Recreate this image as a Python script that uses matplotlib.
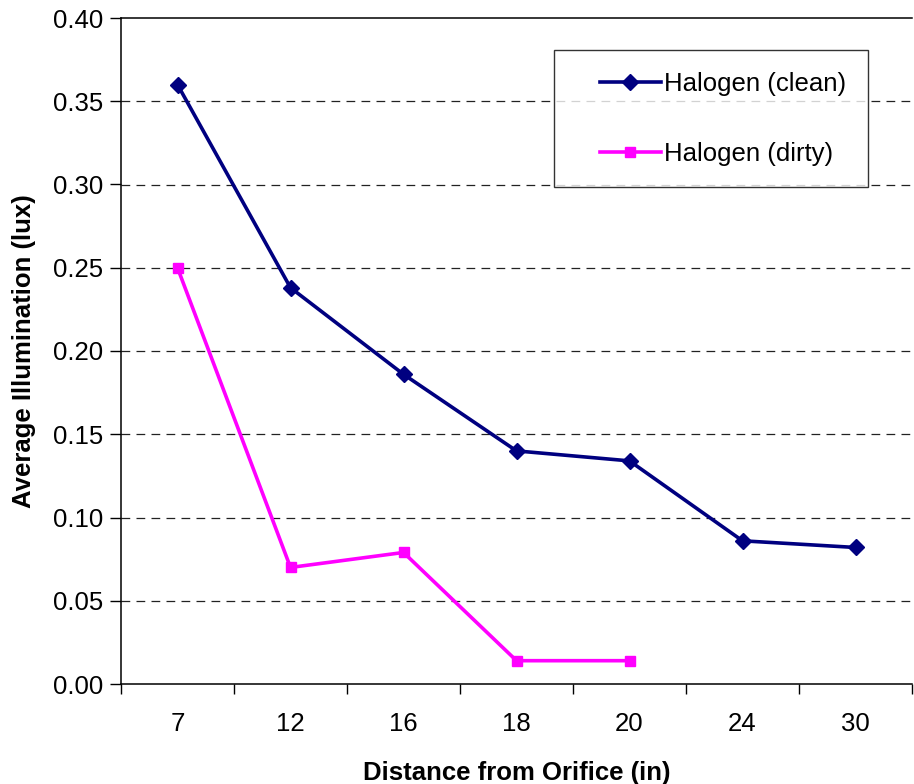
import matplotlib
matplotlib.use("Agg")
import matplotlib.pyplot as plt
from matplotlib.legend_handler import HandlerLine2D
import numpy as np

plt.rcParams['font.family'] = ['Liberation Sans', 'DejaVu Sans']

categories = ["7", "12", "16", "18", "20", "24", "30"]
clean = [0.360, 0.238, 0.186, 0.140, 0.134, 0.086, 0.082]
dirty = [0.250, 0.070, 0.079, 0.014, 0.014]

fs = 18.5


class ShiftedHandler(HandlerLine2D):
    def get_xdata(self, legend, xdescent, ydescent, width, height, fontsize):
        off = 0.95 * fontsize
        return super().get_xdata(legend, xdescent - off, ydescent, width - off, height, fontsize)


fig = plt.figure(figsize=(9.14, 7.84), dpi=100)
ax = fig.add_axes([121/914, 1-684/784, (912-121)/914, (684-18)/784])

x = np.arange(len(categories))
l1, = ax.plot(x, clean, color='#000080', lw=2.6, marker='D', ms=8.5, label='Halogen (clean)')
l2, = ax.plot(x[:len(dirty)], dirty, color='#FF00FF', lw=2.6, marker='s', ms=7.5, label='Halogen (dirty)')

ax.set_xlim(-0.5, len(categories) - 0.5)
ax.set_ylim(0, 0.40)
ax.set_yticks(np.arange(0, 0.401, 0.05))
ax.set_yticklabels([f"{v:.2f}" for v in np.arange(0, 0.401, 0.05)], fontsize=fs)
ax.set_xticks(x)
ax.set_xticklabels(categories, fontsize=fs)
ax.set_xticks(np.arange(-0.5, len(categories) + 0.5, 1), minor=True)
ax.tick_params(axis='x', which='major', length=0, pad=20)
ax.tick_params(axis='x', which='minor', length=7, width=1, direction='out')
ax.tick_params(axis='y', which='major', length=8, width=1, direction='out', pad=5)

for v in np.arange(0.05, 0.40, 0.05):
    ax.axhline(v, color='#222222', lw=0.9, ls=(0, (7, 5)), zorder=0)

ax.spines['right'].set_visible(False)
for s in ['top', 'left', 'bottom']:
    ax.spines[s].set_linewidth(1.1)

ax.set_xlabel("Distance from Orifice (in)", fontsize=fs, fontweight='bold', labelpad=18)
ax.set_ylabel("Average Illumination (lux)", fontsize=fs, fontweight='bold', labelpad=12)

h = ShiftedHandler()
leg = ax.legend(handles=[l1, l2], loc='upper left',
                bbox_to_anchor=((554-121)/791, 1-(50-18)/666),
                fontsize=fs, frameon=True, fancybox=False, edgecolor='black',
                borderpad=0.85, labelspacing=1.78, handlelength=3.3, handletextpad=0.15,
                borderaxespad=0, handler_map={l1: h, l2: h})
leg.get_frame().set_linewidth(1)

fig.savefig("out.png", dpi=100)
